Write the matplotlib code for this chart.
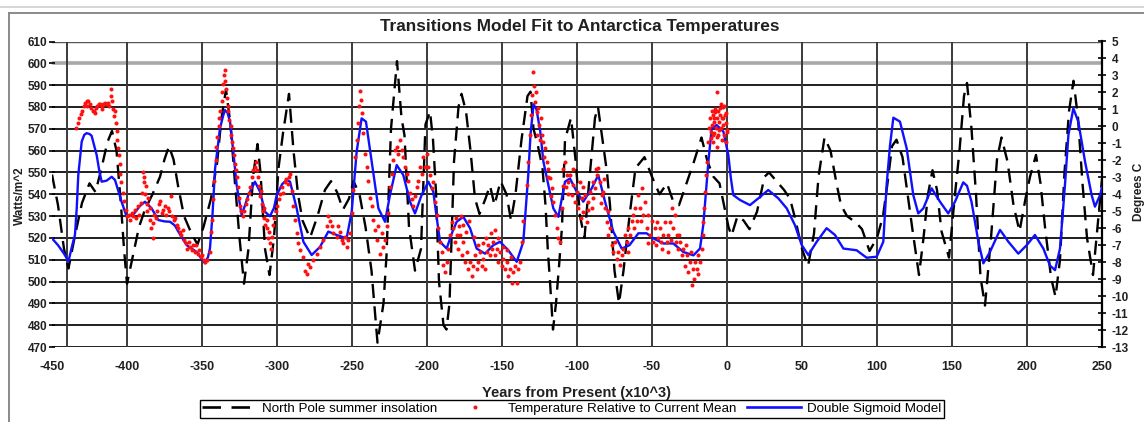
import matplotlib
matplotlib.use("Agg")
import matplotlib.pyplot as plt
from matplotlib.lines import Line2D

plt.rcParams["font.family"] = ["Liberation Sans", "DejaVu Sans"]
plt.rcParams["axes.unicode_minus"] = False

# ---------------------------------------------------------------------------
# Data
# ---------------------------------------------------------------------------
# North Pole summer insolation (W/m^2), left axis
ins_years = [
    -450, -446, -442, -439, -435, -430, -425, -421, -417, -413,
    -410, -407, -404, -402, -400, -396, -392, -388, -383, -378,
    -375, -372, -369, -366, -362, -357, -353, -349, -344, -340,
    -337, -334, -331, -328, -325, -322, -319, -316, -313, -311,
    -308, -305, -302, -299, -296, -292, -289, -286, -283, -278,
    -273, -268, -264, -260, -256, -252, -249, -245, -241, -237,
    -233, -229, -227, -224, -220, -217, -215, -212, -208, -204,
    -201, -198, -196, -194, -192, -189, -187, -185, -182, -179,
    -177, -174, -171, -168, -165, -161, -158, -155, -151, -147,
    -144, -141, -137, -133, -131, -129, -126, -123, -121, -119.5,
    -118, -116, -114, -112, -110, -108, -104, -101, -98, -95,
    -92, -88, -86, -83, -80, -78, -75, -72, -69, -65,
    -61, -55, -50, -45, -40, -36, -32, -27, -22, -17,
    -13, -9, -5, -2, 1, 3, 7, 11, 15, 20,
    25, 28, 33, 38, 42, 45, 50, 54, 58, 61,
    65, 69, 73, 76, 80, 86, 90, 95, 100, 104,
    107, 110, 113, 117, 121, 124, 128, 131, 134, 137,
    140, 143, 148, 152, 155, 158, 160, 163, 166, 169,
    172, 176, 180, 183, 187, 191, 195, 199, 202, 206,
    209, 212, 216, 219, 222, 225, 228, 231, 234, 237,
    240, 244, 247, 250,
]
ins_watts = [
    549, 535, 515, 506, 520, 536, 545, 541, 552, 564,
    569, 560, 535, 515, 499, 512, 525, 533, 540, 548,
    556, 562, 556, 544, 530, 522, 517, 525, 538, 554,
    575, 588, 572, 545, 520, 499, 515, 548, 563, 550,
    515, 503, 520, 552, 568, 586, 560, 540, 528, 520,
    530, 542, 546, 541, 533, 538, 546, 540, 525, 505,
    472, 490, 512, 570, 601, 575, 567, 525, 505, 515,
    572, 578, 565, 541, 500, 480, 478, 490, 555, 580,
    586, 578, 560, 538, 531, 538, 544, 535, 546, 540,
    528, 540, 565, 585, 587, 570, 562, 552, 535, 515,
    500, 478, 490, 507, 525, 565, 575, 556, 530, 520,
    545, 575, 580, 565, 550, 535, 505, 490, 505, 530,
    552, 557, 548, 540, 545, 537, 535, 545, 555, 566,
    555, 548, 545, 535, 525, 521, 530, 528, 524, 532,
    548, 550, 546, 542, 538, 530, 515, 507, 522, 548,
    566, 560, 545, 535, 530, 527, 524, 514, 520, 530,
    545, 562, 565, 557, 537, 522, 503, 520, 540, 551,
    542, 523, 511, 540, 560, 585, 591, 570, 540, 502,
    489, 520, 556, 566, 555, 535, 523, 538, 548, 558,
    545, 525, 502, 493, 510, 550, 578, 592, 575, 545,
    520, 503, 525, 547,
]

# Temperature relative to current mean (deg C), right axis
temp_years = (
    [-434, -433, -432, -431, -430, -429, -428, -427, -426.5, -426,
     -425, -424, -423, -422, -421.5, -421, -420, -419, -418, -417,
     -416.5, -416, -415, -414, -413, -412, -411, -410.5, -410, -409.5,
     -409, -408, -407.5, -407, -406.5, -406, -405.5, -405, -404.5, -404,
     -403, -402, -401, -400, -399]
    + [-398, -397, -396, -395, -394, -393, -392, -391, -390, -389.5,
       -389, -388.5, -388, -387.5, -387, -386.5, -386, -385, -384.5, -384,
       -383, -382.5, -382, -381, -380, -379, -378, -377, -376, -375,
       -374, -373, -372, -371, -370, -369, -368, -367, -366, -365,
       -364, -363, -362, -361, -360, -359, -358, -357, -356, -355,
       -354, -353, -352, -351, -350, -349, -348, -347]
    + [-345, -344, -343.5, -343, -342, -341, -340.5, -340, -339, -338.5,
       -338, -337, -336.5, -336, -335.5, -335, -334.5, -334, -333.5, -333,
       -332.5, -332, -331, -330.5, -330, -329.5, -329, -328, -327.5, -327,
       -326, -325.5, -325, -324, -323, -322, -321, -320, -319, -318,
       -317, -316, -315, -314, -313.5, -313, -312, -311.5, -311, -310,
       -309.5, -309, -308.5, -308, -307, -306.5, -306, -305.5, -305, -304,
       -303.5, -303, -302, -301, -300, -299, -298, -297, -296, -295,
       -294, -293, -292]
    + [-291.3, -290.2, -289.1, -288, -286.9, -285.8, -284.7, -282.4, -281.3, -280.2,
       -279.1, -278, -275.8, -273.6, -271.3, -269.1, -266.9, -265.8, -264.7, -263.6,
       -262.4, -260.2, -259.1, -258, -256.9, -255.8, -254.7, -253.6, -252.4, -251.3,
       -250.2, -249.1, -248, -246.9, -245.8, -245.1, -244.7, -244, -243.6, -242.4,
       -241.3, -240.2, -239.1, -238, -236.9, -235.8, -234.7, -233.6, -232.4, -231.3,
       -230.2, -229.1, -228, -226.9, -225.8, -224.7, -223.6, -222.4, -221.3, -220.2,
       -219.1, -218, -216.9, -215.8, -214.7, -213.6, -212.4, -211.3, -210.2, -209.1,
       -208, -206.9, -205.8, -204.7, -203.6, -202.4, -201.3, -200.2, -199.1]
    + [-198, -196.9, -195.8, -194.7, -193.6, -192.4, -191.3, -190.2, -189.1, -188,
       -186.9, -185.8, -184.7, -183.6, -182.4, -181.3, -180.2, -179.1, -178, -176.9,
       -175.8, -174.7, -173.6, -172.4, -171.3, -170.2, -169.1, -168, -166.9, -165.8,
       -164.7, -163.6, -162.4, -161.3, -160.2, -159.1, -158, -156.9, -155.8, -154.7,
       -153.6, -152.4, -151.3, -150.2, -149.1, -148, -146.9, -145.8, -144.7, -143.6,
       -142.4, -141.3, -140.2, -139.1, -138, -136.9, -135.8]
    + [-181, -178.5, -177.5, -176, -174, -172, -169, -166, -163, -160.5,
       -157.5, -155, -152.5, -149.5, -147, -144]
    + [-133.6, -132.4, -131.3, -130.7, -130, -129.1, -128.7, -128, -127.3, -126.9,
       -125.8, -125.1, -124.2, -123.6, -122.4, -121.3, -120.2, -119.1, -118, -116.9,
       -115.8, -114.7, -113.6, -112.4, -111.3, -110.2, -109.6, -109.1, -108, -106.9,
       -105.8, -104.7, -103.6, -102.4, -101.3, -100.2, -99.1, -98, -96.9, -95.8,
       -94.7, -93.6, -92.4, -91.3, -90.2, -89.1, -88, -86.9, -85.8, -84.7,
       -83.6, -82.4, -81.3, -80.2, -79.1, -78, -76.9, -75.8, -74.7, -73.6,
       -72.4, -71.3, -70.2, -69.1, -68, -66.9, -65.8, -64.7, -63.6, -62.4,
       -61.3, -60.2, -59.1, -58, -56.9, -55.8, -54.7, -53.6, -52.4, -51.3,
       -50.2, -49.1, -48, -46.9, -45.8, -44.7, -43.6, -42.4, -41.3, -40.2,
       -39.1, -38, -36.9, -35.8, -34.7, -33.6, -32.4, -31.3, -30.2, -29.1,
       -28, -26.9, -25.8, -24.7, -23.6, -22.4, -21.3, -20.2, -19.1, -18,
       -16.9, -16.2, -15.8, -15.1, -14.4, -13.8, -13.1, -12.4, -11.8, -11.3,
       -10.7, -10.2, -9.6, -9.1, -8.4, -8, -7.3, -6.9, -6.4, -5.8,
       -5.1, -4.7, -4, -3.6, -2.9, -2.4, -2, -1.3, -0.7, -0.2]
    + [-11, -10, -9.3, -8.7, -7.8, -7, -6, -5.5, -4.4, -3.3,
       -2.7, -1.7, -1, -0.4, 0.3, -6.6, -3.8, -8.9]
    + [-126.5, -124.8, -121.8, -119.6, -117.5, -107.5, -106, -103, -97.5, -96,
       -93, -89.5, -87.5, -84, -82, -79.5]
    + [-66, -62, -57.5, -53, -47.5, -44, -39.5, -37.5, -34, -31.8,
       -27.5, -24, -21.8, -19.6]
)
temp_deg = (
    [-0.1, 0.2, 0.5, 0.7, 0.9, 1.2, 1.4, 1.5, 1.2, 1.5,
     1.3, 1.1, 0.9, 0.9, 0.8, 1.1, 1.2, 1.3, 1.3, 1.2,
     1.0, 1.3, 1.4, 1.3, 1.4, 1.2, 2.2, 1.8, 1.5, 1.0,
     0.6, 0.9, 0.2, -0.3, -0.8, -1.3, -1.7, -2.2, -2.8, -3.3,
     -3.9, -4.4, -4.9, -5.3, -5.2]
    + [-5.5, -5.1, -5.3, -4.9, -5.4, -4.7, -5.2, -4.5, -3.9, -2.7,
       -3.3, -3.0, -4.0, -3.5, -4.6, -5.0, -4.2, -5.5, -4.8, -6.0,
       -5.7, -6.6, -5.2, -5.4, -5.0, -4.6, -4.4, -5.1, -4.9, -4.7,
       -5.2, -4.8, -5.0, -4.1, -5.3, -5.5, -5.4, -5.8, -6.0, -6.2,
       -6.4, -6.1, -6.7, -6.9, -7.2, -6.8, -7.1, -7.3, -7.0, -7.4,
       -7.0, -7.5, -7.3, -7.7, -7.6, -7.9, -8.0, -7.9]
    + [-7.4, -6.2, -5.5, -4.3, -3.2, -2.0, -1.2, -0.6, 0.0, 0.5,
       0.9, 1.5, 2.0, 2.5, 3.0, 3.3, 2.7, 2.2, 1.7, 1.2,
       0.9, 0.4, 0.0, -0.5, -0.9, -1.3, -1.7, -2.2, -2.6, -3.0,
       -3.6, -4.2, -4.7, -5.0, -5.3, -5.0, -4.6, -4.3, -3.9, -3.6,
       -3.0, -2.6, -2.4, -2.1, -2.6, -3.0, -3.5, -4.1, -3.8, -4.6,
       -5.0, -5.4, -4.8, -5.8, -6.0, -5.5, -6.6, -6.2, -6.9, -7.2,
       -6.5, -5.8, -5.4, -5.0, -4.7, -4.3, -4.0, -3.6, -3.9, -3.3,
       -3.1, -3.4, -3.0]
    + [-2.8, -3.8, -4.7, -5.5, -6.3, -6.9, -7.3, -7.7, -8.5, -8.7,
       -8.1, -8.3, -7.9, -7.5, -7.1, -6.7, -5.9, -5.3, -5.6, -5.9,
       -6.3, -6.5, -5.9, -6.2, -6.7, -6.9, -6.5, -7.1, -6.7, -6.3,
       -5.1, -3.75, -1.8, -0.8, 0.2, 1.2, 2.1, 1.55, 0.8, -0.4,
       -1.6, -2.4, -3.2, -4.2, -4.7, -5.5, -6.1, -6.7, -5.9, -7.5,
       -6.3, -7.1, -6.7, -5.9, -5.1, -3.6, -2.8, -2.0, -1.4, -1.2,
       -1.6, -0.8, -1.4, -1.8, -2.4, -2.8, -3.2, -3.95, -4.3, -4.7,
       -4.1, -3.6, -3.2, -2.4, -2.8, -1.8, -2.4, -1.6, -2.4]
    + [-2.87, -3.65, -3.26, -4.44, -5.2, -6.0, -6.8, -7.4, -8.17, -8.57,
       -7.98, -7.2, -6.4, -5.62, -6.0, -6.8, -6.4, -7.2, -6.4, -7.6,
       -6.8, -8.0, -7.4, -8.4, -8.0, -8.8, -8.2, -7.6, -8.4, -8.0,
       -7.4, -8.2, -7.8, -8.4, -7.4, -7.0, -7.6, -7.2, -6.8, -7.6,
       -7.2, -8.0, -7.4, -8.2, -7.8, -8.4, -8.0, -8.8, -8.4, -9.2,
       -8.6, -8.2, -9.2, -8.4, -8.0, -6.8, -5.6]
    + [-5.4, -5.9, -5.3, -5.8, -6.2, -5.6, -6.5, -7.0, -6.9, -6.6,
       -6.3, -6.1, -6.6, -7.1, -7.3, -7.7]
    + [-3.46, -2.1, -0.51, 0.67, 1.85, 3.2, 2.4, 1.45, 2.04, 0.87,
       1.06, 0.08, 0.47, -0.51, -0.9, -1.3, -2.08, -2.5, -3.07, -3.65,
       -4.44, -5.2, -6.0, -6.6, -6.8, -4.8, -3.5, -2.5, -2.08, -2.87,
       -3.26, -2.87, -4.05, -3.46, -4.44, -3.85, -4.83, -3.26, -4.24, -5.03,
       -4.05, -5.62, -4.44, -3.85, -4.83, -3.26, -3.65, -2.87, -2.48, -3.26,
       -4.05, -3.85, -4.83, -5.62, -6.4, -6.0, -7.0, -7.4, -6.8, -7.8,
       -7.4, -8.17, -7.6, -7.2, -6.4, -6.8, -6.0, -6.4, -5.6, -5.2,
       -4.83, -5.6, -4.05, -4.83, -3.65, -5.2, -4.44, -6.0, -5.2, -6.4,
       -5.6, -6.8, -6.0, -5.62, -6.6, -6.0, -7.2, -6.4, -5.62, -6.8,
       -6.4, -5.62, -4.83, -6.0, -5.2, -6.4, -7.2, -6.8, -7.6, -7.2,
       -8.2, -7.6, -8.6, -8.0, -9.35, -8.4, -8.0, -8.4, -7.6, -8.0,
       -7.2, -6.4, -5.62, -4.83, -3.85, -2.87, -2.08, -0.9, -0.12, 0.47,
       -0.31, 0.08, 0.67, -0.51, 0.28, 0.87, -0.12, 2.04, 0.47, -0.51,
       0.28, 0.67, -0.12, 0.47, 1.16, 0.08, -0.51, 0.67, -0.9, -0.31]
    + [-0.7, 0.9, -0.9, 0.5, 1.0, -0.6, 0.9, -0.2, 1.1, -0.8,
       0.5, 1.2, 0.2, 0.8, -0.2, -1.2, 1.3, -0.4]
    + [-0.5, -0.8, -1.8, -3.0, -4.1, -3.6, -4.0, -2.5, -5.4, -3.6,
       -4.9, -4.2, -2.5, -4.5, -3.1, -5.0]
    + [-7.4, -6.0, -5.6, -6.9, -7.0, -6.8, -7.4, -6.7, -6.8, -6.4,
       -7.0, -7.4, -9.0, -8.7]
)

# Double sigmoid model (deg C), right axis
model_years = [
    -450, -446, -442, -439, -436.5, -434.7, -433.5, -432.5, -430.2, -428.5,
    -426.9, -425, -423.6, -420.2, -418.5, -416.9, -413.6, -410.2, -408, -405.8,
    -403.6, -400.2, -395.8, -391.5, -388, -383.6, -379.1, -375, -371.3, -368,
    -365.8, -360.2, -353.6, -348, -346, -344.7, -343, -341.3, -338, -336,
    -334.7, -333, -331.3, -329, -326.9, -323.6, -321.5, -319.1, -314.7, -311.3,
    -308, -304.7, -302, -300.2, -296.5, -293.6, -291.3, -289.1, -286.9, -282.4,
    -276.9, -271.3, -265.8, -260.2, -253.6, -250.2, -246.9, -243.6, -240.7, -236.9,
    -232.4, -228, -224.7, -220.2, -215.8, -211.3, -208, -203.6, -199.1, -195.8,
    -193.5, -191.3, -186.9, -183, -180.2, -175.8, -171.3, -166.9, -161.3, -155.8,
    -151.3, -145.8, -140.2, -135.8, -132.5, -131, -129, -127, -124.5, -122.4,
    -115.8, -112.4, -108, -104.7, -100.2, -95.8, -90.2, -85.8, -81.3, -75.8,
    -70.2, -65, -59.1, -53.6, -49.1, -42.4, -35.8, -29.1, -22.4, -18,
    -15.8, -12.4, -10.2, -6.9, -2.4, 0.9, 2.5, 4.2, 8.7, 15.3,
    20.9, 27.5, 34.2, 39.8, 45.3, 49.8, 54.2, 59.8, 66.4, 72,
    77.6, 86.4, 93.1, 99.8, 104.2, 106.4, 108.7, 110.9, 115.3, 119.8,
    124.2, 127.5, 130.9, 136.4, 142, 147.5, 152, 157.5, 160, 163,
    167.6, 170.9, 175.3, 182, 187.6, 194.2, 199.8, 205.3, 210.9, 215.3,
    218.7, 222, 225.3, 227.6, 230.9, 234.2, 238.7, 243.1, 245.3, 248.7,
    250,
]
model_deg = [
    -6.6, -7.0, -7.5, -7.95, -7.0, -6.4, -4.8, -2.9, -0.9, -0.5,
    -0.4, -0.45, -0.55, -1.7, -2.6, -3.26, -3.2, -2.97, -3.16, -3.8,
    -4.44, -5.33, -5.2, -4.7, -4.44, -4.83, -5.52, -5.6, -5.62, -5.85,
    -6.2, -7.0, -7.4, -8.07, -7.7, -7.2, -5.2, -2.5, -0.12, 0.6,
    0.96, 0.8, 0.28, -1.6, -3.46, -5.2, -4.7, -4.05, -3.26, -3.85,
    -5.03, -5.3, -4.8, -4.05, -3.4, -3.16, -3.26, -4.05, -4.83, -6.8,
    -7.58, -7.1, -6.2, -6.4, -6.6, -5.03, -1.49, 0.47, 0.28, -2.08,
    -4.83, -5.62, -4.05, -2.28, -2.87, -4.44, -5.13, -4.05, -3.26, -3.85,
    -5.4, -6.8, -7.2, -6.2, -5.62, -5.33, -6.0, -7.2, -7.5, -7.0,
    -6.8, -7.3, -7.98, -6.8, -2.87, -0.5, 1.3, 1.0, -0.3, -2.08,
    -4.83, -5.33, -3.26, -3.07, -3.85, -4.44, -3.65, -2.87, -4.44, -6.2,
    -7.2, -7.0, -6.3, -6.3, -6.6, -6.9, -6.9, -7.4, -7.6, -7.2,
    -5.8, -2.08, -0.12, 0.08, -0.31, -1.69, -3.0, -4.05, -4.34, -4.64,
    -4.24, -3.75, -4.24, -4.83, -5.82, -6.99, -7.58, -6.8, -6.0, -6.4,
    -7.2, -7.3, -7.74, -7.68, -6.8, -3.46, -1.1, 0.51, 0.28, -1.3,
    -4.05, -5.13, -4.83, -3.65, -4.44, -5.13, -4.44, -3.3, -3.5, -4.44,
    -6.8, -8.07, -7.4, -6.1, -6.8, -7.5, -7.0, -6.4, -7.2, -8.2,
    -8.47, -7.2, -3.46, -0.51, 1.06, 0.28, -2.08, -4.05, -4.73, -4.05,
    -3.6,
]

x_ticks = list(range(-450, 251, 50))
watt_ticks = list(range(470, 611, 10))
deg_ticks = list(range(-13, 6))

# ---------------------------------------------------------------------------
# Figure layout (pixel based, 1144 x 422)
# ---------------------------------------------------------------------------
W_PX, H_PX = 1144, 422
L, R, T, B = 52, 1102, 41.5, 347

fig = plt.figure(figsize=(W_PX / 100, H_PX / 100), dpi=100)
fig.patch.set_facecolor("white")
ax = fig.add_axes([L / W_PX, 1 - B / H_PX, (R - L) / W_PX, (B - T) / H_PX])
ax2 = ax.twinx()

ax.set_xlim(-450, 250)
ax.set_ylim(470, 610)
ax2.set_ylim(-13, 5)

# grid
for w in watt_ticks:
    if w == 600:
        ax.axhline(w, color="#a8a8a8", lw=2.6, zorder=1)
    elif w == 610:
        ax.axhline(w, color="#555555", lw=1.0, zorder=1)
    else:
        ax.axhline(w, color="#1e1e1e", lw=1.4, zorder=1)
for xv in [-440] + list(range(-400, 201, 50)):
    ax.axvline(xv, color="#3a3a3a", lw=1.4, zorder=1)

# series
ax.plot(ins_years, ins_watts, color="black", lw=1.7,
        linestyle=(0, (6, 3.5)), zorder=2)
ax2.plot(model_years, model_deg, color="#1010ff", lw=1.7, zorder=3)
ax2.plot(temp_years, temp_deg, linestyle="none", marker="o", ms=2.9,
         mec="none", mfc="#ff1010", zorder=4)

# axes styling
for s in ["left", "top", "bottom", "right"]:
    ax.spines[s].set_visible(False)
for s in ["left", "top", "bottom"]:
    ax2.spines[s].set_visible(False)
ax2.spines["right"].set_linewidth(1.6)
ax2.spines["right"].set_color("black")

ax.set_xticks(x_ticks)
ax.set_xticklabels([str(v) for v in x_ticks])
ax.tick_params(axis="x", length=0, pad=10, labelsize=9)
ax.set_yticks(watt_ticks)
ax.tick_params(axis="y", direction="inout", length=5, width=1.2, pad=1,
               labelsize=8.5)
ax2.set_yticks(deg_ticks)
ax2.tick_params(axis="y", direction="inout", length=6, width=1.2, pad=4,
                labelsize=8.5)
for lab in ax.get_xticklabels() + ax.get_yticklabels() + ax2.get_yticklabels():
    lab.set_fontweight("bold")
    lab.set_color("#202020")

# texts
fig.text(580 / W_PX, 1 - 27 / H_PX,
         "Transitions Model Fit to Antarctica Temperatures",
         ha="center", va="center", fontsize=12.4, fontweight="bold",
         color="#202020")
fig.text(576 / W_PX, 1 - 393 / H_PX, "Years from Present (x10^3)",
         ha="center", va="center", fontsize=10.5, fontweight="bold",
         color="#202020")
fig.text(20 / W_PX, 1 - 196 / H_PX, "Watts/m^2", rotation=90,
         ha="center", va="center", fontsize=8.5, fontweight="bold",
         color="#202020")
fig.text(1139 / W_PX, 1 - 192 / H_PX, "Degrees C", rotation=90,
         ha="center", va="center", fontsize=8.5, fontweight="bold",
         color="#202020")

# legend
handles = [
    Line2D([], [], color="black", lw=1.9, linestyle=(0, (7, 4))),
    Line2D([], [], linestyle="none", marker="o", ms=2.9, mec="none",
           mfc="#ff1010"),
    Line2D([], [], color="#1010ff", lw=1.9),
]
labels = ["North Pole summer insolation",
          "Temperature Relative to Current Mean",
          "Double Sigmoid Model"]
leg = fig.legend(handles, labels, loc="center",
                 bbox_to_anchor=(572 / W_PX, 1 - 409 / H_PX),
                 ncol=3, fontsize=9.6, frameon=True, fancybox=False,
                 edgecolor="black", framealpha=1, numpoints=1,
                 handlelength=4, handletextpad=0.5, columnspacing=0.8,
                 borderpad=0.2, borderaxespad=0)
leg.get_frame().set_linewidth(1.0)

# outer frame around the chart
fig.add_artist(Line2D([0, 1], [1 - 7 / H_PX] * 2, transform=fig.transFigure,
                      color="#d0d0d0", lw=1.2))
fig.add_artist(Line2D([9 / W_PX, 1], [1 - 12.5 / H_PX] * 2,
                      transform=fig.transFigure, color="#8a8a8a", lw=1.4))
fig.add_artist(Line2D([9 / W_PX] * 2, [0, 1 - 12.5 / H_PX],
                      transform=fig.transFigure, color="#8a8a8a", lw=1.4))

fig.savefig("out.png", dpi=100, facecolor="white")
